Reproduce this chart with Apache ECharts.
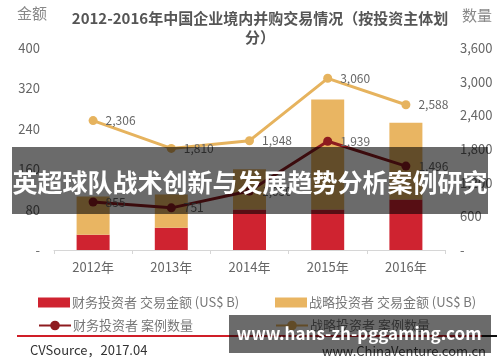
<!DOCTYPE html>
<html>
<head>
<meta charset="utf-8">
<script src="https://cdn.jsdelivr.net/npm/echarts@6/dist/echarts.min.js"></script>
<style>
  html, body { margin: 0; padding: 0; background: #fff; }
  #chart { width: 500px; height: 362px; }
</style>
</head>
<body>
<div id="chart"></div>
<script>
// Datos (estimados donde el cartel tapa la figura)
const years = ['2012年', '2013年', '2014年', '2015年', '2016年'];
const finAmount = [30, 44, 80, 80, 100];      // 财务投资者 交易金额
const stratAmount = [76, 66, 80, 218, 152];   // 战略投资者 交易金额
const finCount = [855, 751, 1050, 1939, 1496];
const stratCount = [2306, 1810, 1948, 3060, 2588];

const names = {
    finAmt: '财务投资者 交易金额 (US$ B)',
    stratAmt: '战略投资者 交易金额 (US$ B)',
    finCnt: '财务投资者 案例数量',
    stratCnt: '战略投资者 案例数量'
};

const colors = {
    red: '#cf2330',
    orange: '#e9b562',
    darkRed: '#8e1b1f',
    orangeLine: '#e6b35e'
};

const font = '"Noto Sans CJK SC", "Noto Sans", sans-serif';
const fmt = v => v === 0 ? '-' : v.toLocaleString('en-US');

// una leyenda por elemento para fijar la posición
function legendItem(name, left, top, isLine) {
    const item = {
        data: [name], left: left, top: top,
        itemWidth: 32, itemHeight: isLine ? 12 : 10, itemGap: 0,
        textStyle: { color: '#777', fontSize: 13, fontFamily: font, padding: [0, 0, 0, -3] },
        selectedMode: false
    };
    if (!isLine) item.icon = 'rect';
    return item;
}

const chart = echarts.init(document.getElementById('chart'));

const option = {
    animation: false,
    textStyle: { fontFamily: font },
    title: {
        text: '2012-2016年中国企业境内并购交易情况（按投资主体划\n分）',
        left: 255, top: 4, textAlign: 'center',
        textStyle: { fontSize: 15, fontWeight: 'bold', color: '#555', lineHeight: 19, fontFamily: font }
    },
    legend: [
        legendItem(names.finAmt, 33, 291, false),
        legendItem(names.stratAmt, 270, 291, false),
        legendItem(names.finCnt, 33, 314, true),
        legendItem(names.stratCnt, 270, 314, true)
    ],
    grid: { left: 54, right: 55, top: 48, bottom: 112 },
    xAxis: {
        type: 'category',
        data: years,
        axisLine: { lineStyle: { color: '#d6d6d6' } },
        axisTick: { show: true, lineStyle: { color: '#d6d6d6' }, length: 4 },
        axisLabel: { color: '#666', fontSize: 13, margin: 11 }
    },
    yAxis: [
        {
            type: 'value', min: 0, max: 400, interval: 80,
            splitLine: { show: false },
            axisLine: { show: false }, axisTick: { show: false },
            axisLabel: { color: '#666', fontSize: 13, margin: 14, formatter: fmt }
        },
        {
            type: 'value', min: 0, max: 3600, interval: 600,
            splitLine: { show: false },
            axisLine: { show: false }, axisTick: { show: false },
            axisLabel: { color: '#666', fontSize: 13, margin: 15, formatter: fmt }
        }
    ],
    series: [
        {
            name: names.finAmt, type: 'bar', stack: 'amt', barWidth: 33,
            itemStyle: { color: colors.red }, data: finAmount
        },
        {
            name: names.stratAmt, type: 'bar', stack: 'amt', barWidth: 33,
            itemStyle: { color: colors.orange }, data: stratAmount
        },
        {
            name: names.finCnt, type: 'line', yAxisIndex: 1,
            symbol: 'circle', symbolSize: 9,
            lineStyle: { width: 3, color: colors.darkRed },
            itemStyle: { color: colors.darkRed },
            label: { show: true, position: 'right', distance: 8, color: '#666', fontSize: 12, formatter: p => fmt(p.value) },
            data: finCount
        },
        {
            name: names.stratCnt, type: 'line', yAxisIndex: 1,
            symbol: 'circle', symbolSize: 9,
            lineStyle: { width: 3, color: colors.orangeLine },
            itemStyle: { color: colors.orangeLine },
            label: { show: true, position: 'right', distance: 8, color: '#666', fontSize: 12, formatter: p => fmt(p.value) },
            data: stratCount
        }
    ],
    graphic: [
        { type: 'text', left: 17, top: 6, style: { text: '金额', fill: '#888', font: '15px ' + font } },
        { type: 'text', left: 462, top: 8, style: { text: '数量', fill: '#888', font: '15px ' + font } },
        // línea roja inferior y fuente
        { type: 'line', shape: { x1: 17, y1: 336, x2: 482, y2: 336 }, style: { stroke: '#d01e28', lineWidth: 2 } },
        { type: 'line', shape: { x1: 482, y1: 336, x2: 497, y2: 336 }, style: { stroke: '#111', lineWidth: 2 } },
        { type: 'text', left: 30, top: 344, style: { text: 'CVSource，2017.04', font: '13px ' + font, fill: '#333' } },
        { type: 'text', left: 322, top: 345, style: { text: 'www.ChinaVenture.com.cn', font: '13px ' + font, fill: '#444' } },
        // cartel central
        { type: 'rect', shape: { x: 12, y: 147, width: 476, height: 67 }, style: { fill: 'rgba(0,0,0,0.58)' }, z: 100 },
        {
            type: 'text', x: 250, y: 182, z: 101,
            style: { text: '英超球队战术创新与发展趋势分析案例研究', fill: '#fff', font: 'bold 25px ' + font, align: 'center', verticalAlign: 'middle' }
        },
        // marca de agua inferior
        { type: 'rect', shape: { x: 229, y: 315, width: 262, height: 38 }, style: { fill: 'rgba(0,0,0,0.58)' }, z: 100 },
        {
            type: 'text', x: 359, y: 334, z: 101,
            style: { text: 'www.hans-zh-pggaming.com', fill: '#fff', font: 'bold 17px ' + font, align: 'center', verticalAlign: 'middle' }
        }
    ]
};

chart.setOption(option);
</script>
</body>
</html>
